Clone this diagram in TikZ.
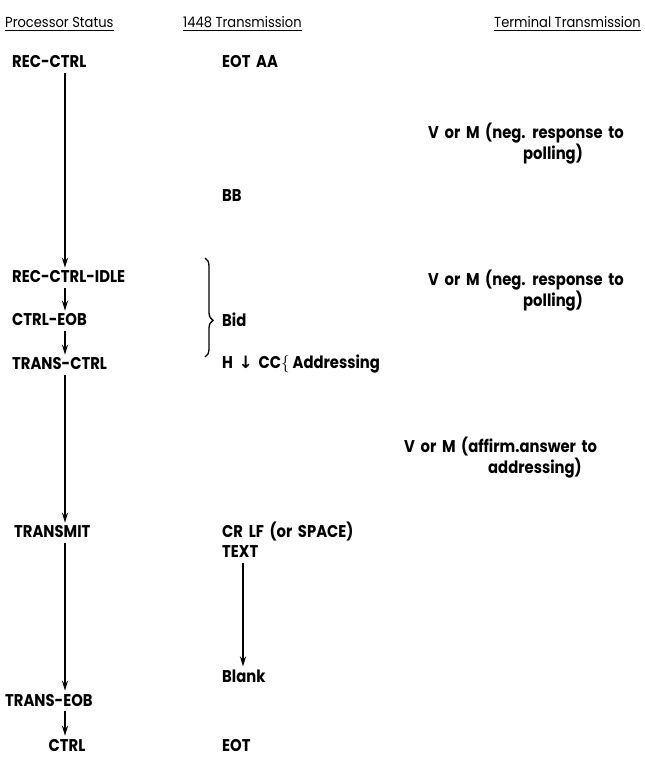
\documentclass[tikz,border=0pt]{standalone}
\usepackage{fontspec}
\setmainfont{Poppins}[FakeStretch=0.87, WordSpace=1.8]
\newfontfamily\headfont{Poppins}[FakeStretch=0.9]
\newfontfamily\symfont{DejaVu Sans}
\usetikzlibrary{arrows.meta,decorations.pathreplacing}

\begin{document}
\begin{tikzpicture}[x=1pt, y=-1pt,
    >={Stealth[length=10pt, width=6pt]},
    flow/.style  = {->, line width=1.7pt, shorten <=5pt, shorten >=3pt},
    txt/.style   = {inner sep=0pt, anchor=west, font=\fontsize{17}{21}\selectfont\bfseries},
    headtxt/.style = {inner sep=0pt, anchor=west, font=\headfont\fontsize{14.5}{17}\selectfont},
    reply/.style = {txt, anchor=north west, align=left},
    bidbrace/.style = {decorate, line width=1.3pt,
                       decoration={brace, amplitude=8pt, aspect=0.63}}
]
\useasboundingbox (0,0) rectangle (645,766);

% column headings
\foreach \n/\x/\t in {hp/5/Processor Status, hs/183/1448 Transmission, ht/494/Terminal Transmission}{
  \node[headtxt] (\n) at (\x,22) {\t};
  \draw[line width=1pt] ([yshift=-3pt]\n.south west) -- ([yshift=-3pt]\n.south east);
}

% processor status column
\coordinate (ax) at (65,0);
\node[txt] (rc)   at (12,62)  {REC-CTRL};
\node[txt] (rci)  at (12,277) {REC-CTRL-IDLE};
\node[txt] (ceob) at (12,320) {CTRL-EOB};
\node[txt] (tc)   at (12,364) {TRANS-CTRL};
\node[txt] (tm)   at (14,532) {TRANSMIT};
\node[txt] (teob) at (5,700)  {TRANS-EOB};
\node[txt, anchor=center] (ctrl) at (67,745) {CTRL};

\draw[flow] (rc.south -| ax)   -- (rci.north -| ax);
\draw[flow] (rci.south -| ax)  -- (ceob.north -| ax);
\draw[flow] (ceob.south -| ax) -- (tc.north -| ax);
\draw[flow] (tc.south -| ax)   -- (tm.north -| ax);
\draw[flow] (tm.south -| ax)   -- (teob.north -| ax);
\draw[flow] (teob.south -| ax) -- (ctrl.north -| ax);

% 1448 transmission column
\coordinate (tx) at (243,0);
\node[txt] (eotaa) at (222,62)  {EOT AA};
\node[txt] (bb)    at (222,196) {BB};
\node[txt] (bid)   at (222,320) {Bid};
\node[txt] (addr)  at (222,364) {H\,\,{\symfont ↓}\,\,CC$\{$\,Addressing};
\node[txt] (crlf)  at (222,532) {CR LF (or SPACE)};
\node[txt] (text)  at (222,552) {TEXT};
\node[txt] (blank) at (222,676) {Blank};
\node[txt] (eot)   at (222,745) {EOT};

\draw[flow] (text.south -| tx) -- (blank.north -| tx);
\draw[bidbrace] (205,258) -- (205,357);

% terminal transmission column
\node[reply] (neg1) at (428,123) {V or M (neg. response to\\\hspace*{95pt}polling)};
\node[reply] (neg2) at (428,270) {V or M (neg. response to\\\hspace*{95pt}polling)};
\node[reply] (aff)  at (404,437) {V or M (affirm.answer to\\\hspace*{84pt}addressing)};

\end{tikzpicture}
\end{document}
